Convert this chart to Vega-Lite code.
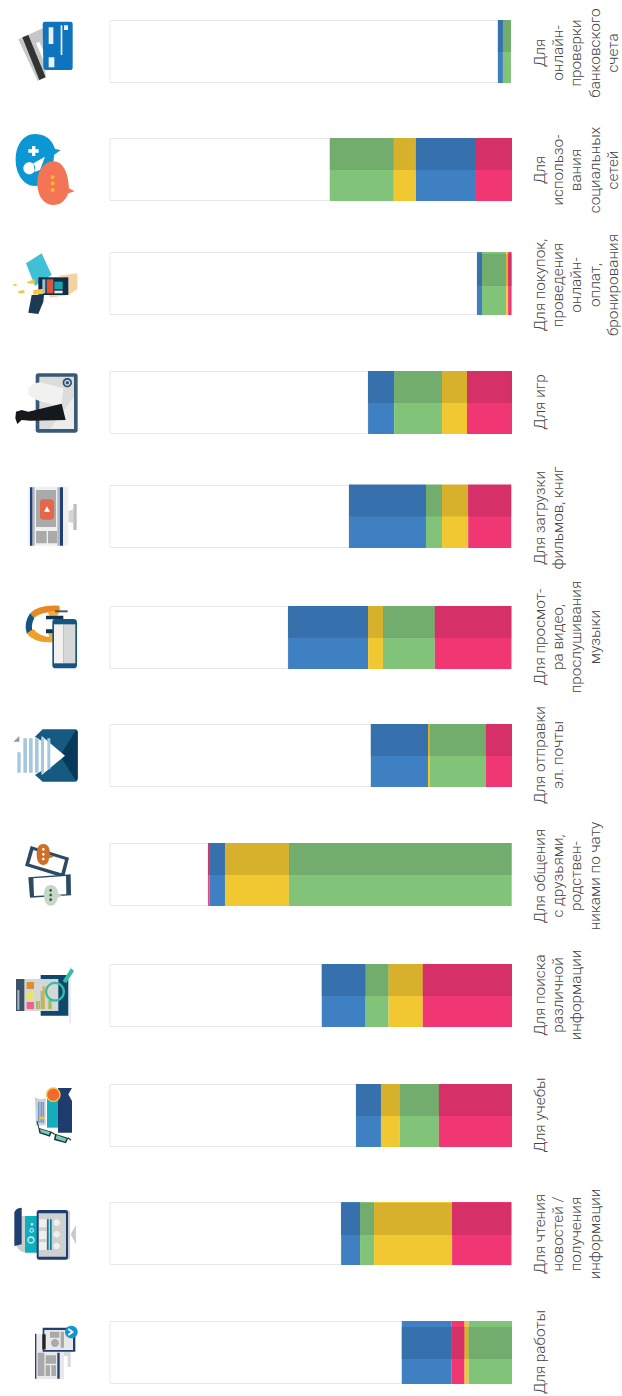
{"$schema":"https://vega.github.io/schema/vega-lite/v6.json","width":622,"height":1396,"padding":0,"autosize":{"type":"none"},"background":"#ffffff","config":{"view":{"stroke":null}},
"datasets":{
"bars":[
{"rank":1,"order":0,"series":"none","value":96.5},{"rank":1,"order":1,"series":"blue","value":1.24},{"rank":1,"order":2,"series":"green","value":2.0},{"rank":1,"order":3,"series":"none","value":0.26},
{"rank":2,"order":0,"series":"none","value":54.7},{"rank":2,"order":1,"series":"green","value":15.9},{"rank":2,"order":2,"series":"yellow","value":5.5},{"rank":2,"order":3,"series":"blue","value":14.7},{"rank":2,"order":4,"series":"pink","value":9.2},
{"rank":3,"order":0,"series":"none","value":91.3},{"rank":3,"order":1,"series":"blue","value":1.24},{"rank":3,"order":2,"series":"green","value":6.0},{"rank":3,"order":3,"series":"yellow","value":0.5},{"rank":3,"order":4,"series":"pink","value":0.75},{"rank":3,"order":5,"series":"green","value":0.21},
{"rank":4,"order":0,"series":"none","value":64.2},{"rank":4,"order":1,"series":"blue","value":6.5},{"rank":4,"order":2,"series":"green","value":11.9},{"rank":4,"order":3,"series":"yellow","value":6.2},{"rank":4,"order":4,"series":"pink","value":10.95},{"rank":4,"order":5,"series":"blue","value":0.25},
{"rank":5,"order":0,"series":"none","value":59.45},{"rank":5,"order":1,"series":"blue","value":19.15},{"rank":5,"order":2,"series":"green","value":4.0},{"rank":5,"order":3,"series":"yellow","value":6.5},{"rank":5,"order":4,"series":"pink","value":10.7},
{"rank":6,"order":0,"series":"none","value":44.3},{"rank":6,"order":1,"series":"blue","value":19.9},{"rank":6,"order":2,"series":"yellow","value":3.7},{"rank":6,"order":3,"series":"green","value":12.9},{"rank":6,"order":4,"series":"pink","value":18.95},{"rank":6,"order":5,"series":"yellow","value":0.25},
{"rank":7,"order":0,"series":"none","value":64.9},{"rank":7,"order":1,"series":"blue","value":14.2},{"rank":7,"order":2,"series":"yellow","value":0.5},{"rank":7,"order":3,"series":"green","value":13.9},{"rank":7,"order":4,"series":"pink","value":6.5},
{"rank":8,"order":0,"series":"none","value":24.4},{"rank":8,"order":1,"series":"pink","value":0.4},{"rank":8,"order":2,"series":"blue","value":3.8},{"rank":8,"order":3,"series":"yellow","value":15.9},{"rank":8,"order":4,"series":"green","value":55.25},{"rank":8,"order":5,"series":"yellow","value":0.25},
{"rank":9,"order":0,"series":"none","value":52.7},{"rank":9,"order":1,"series":"blue","value":10.9},{"rank":9,"order":2,"series":"green","value":5.7},{"rank":9,"order":3,"series":"yellow","value":8.5},{"rank":9,"order":4,"series":"pink","value":22.2},
{"rank":10,"order":0,"series":"none","value":61.2},{"rank":10,"order":1,"series":"blue","value":6.2},{"rank":10,"order":2,"series":"yellow","value":4.7},{"rank":10,"order":3,"series":"green","value":9.7},{"rank":10,"order":4,"series":"pink","value":18.2},
{"rank":11,"order":0,"series":"none","value":57.5},{"rank":11,"order":1,"series":"blue","value":4.7},{"rank":11,"order":2,"series":"green","value":3.5},{"rank":11,"order":3,"series":"yellow","value":19.4},{"rank":11,"order":4,"series":"pink","value":14.65},{"rank":11,"order":5,"series":"yellow","value":0.25},
{"rank":12,"order":0,"series":"none","value":72.6},{"rank":12,"order":1,"series":"blue","value":12.4},{"rank":12,"order":2,"series":"pink","value":3.2},{"rank":12,"order":3,"series":"yellow","value":1.0},{"rank":12,"order":4,"series":"green","value":10.8}
],
"labels":[
{"rank":1,"lines":["Для","онлайн-","проверки","банковского","счета"]},
{"rank":2,"lines":["Для","использо-","вания","социальных","сетей"]},
{"rank":3,"lines":["Для покупок,","проведения","онлайн-","оплат,","бронирования"]},
{"rank":4,"lines":["Для игр"]},
{"rank":5,"lines":["Для загрузки","фильмов, книг"]},
{"rank":6,"lines":["Для просмот-","ра видео,","прослушивания","музыки"]},
{"rank":7,"lines":["Для отправки","эл. почты"]},
{"rank":8,"lines":["Для общения","с друзьями,","родствен-","никами по чату"]},
{"rank":9,"lines":["Для поиска","различной","информации"]},
{"rank":10,"lines":["Для учебы"]},
{"rank":11,"lines":["Для чтения","новостей /","получения","информации"]},
{"rank":12,"lines":["Для работы"]}
],
"icons":[
{"rank":1,"part":"p01"},{"rank":1,"part":"p02"},{"rank":1,"part":"p03"},{"rank":1,"part":"p04"},{"rank":1,"part":"p05"},
{"rank":2,"part":"p06"},{"rank":2,"part":"p07"},{"rank":2,"part":"p08"},{"rank":2,"part":"p09"},
{"rank":3,"part":"p10"},{"rank":3,"part":"p11"},{"rank":3,"part":"p12"},{"rank":3,"part":"p13"},{"rank":3,"part":"p14"},{"rank":3,"part":"p15"},{"rank":3,"part":"p16"},{"rank":3,"part":"p17"},{"rank":3,"part":"p18"},
{"rank":4,"part":"p19"},{"rank":4,"part":"p20"},{"rank":4,"part":"p21"},{"rank":4,"part":"p22"},{"rank":4,"part":"p23"},{"rank":4,"part":"p24"},
{"rank":5,"part":"p25"},{"rank":5,"part":"p26"},{"rank":5,"part":"p27"},{"rank":5,"part":"p28"},{"rank":5,"part":"p29"},{"rank":5,"part":"p30"},{"rank":5,"part":"p31"},{"rank":5,"part":"p32"},
{"rank":6,"part":"p33"},{"rank":6,"part":"p34"},{"rank":6,"part":"p35"},{"rank":6,"part":"p36"},{"rank":6,"part":"p37"},{"rank":6,"part":"p38"},{"rank":6,"part":"p39"},{"rank":6,"part":"p40"},{"rank":6,"part":"p41"},
{"rank":7,"part":"p42"},{"rank":7,"part":"p43"},{"rank":7,"part":"p44"},{"rank":7,"part":"p45"},{"rank":7,"part":"p46"},
{"rank":8,"part":"p47"},{"rank":8,"part":"p48"},{"rank":8,"part":"p49"},{"rank":8,"part":"p50"},{"rank":8,"part":"p51"},{"rank":8,"part":"p52"},{"rank":8,"part":"p53"},{"rank":8,"part":"p54"},
{"rank":9,"part":"p55"},{"rank":9,"part":"p56"},{"rank":9,"part":"p57"},{"rank":9,"part":"p58"},{"rank":9,"part":"p59"},{"rank":9,"part":"p60"},{"rank":9,"part":"p61"},{"rank":9,"part":"p62"},{"rank":9,"part":"p63"},{"rank":9,"part":"p64"},{"rank":9,"part":"p65"},
{"rank":10,"part":"p66"},{"rank":10,"part":"p67"},{"rank":10,"part":"p68"},{"rank":10,"part":"p69"},{"rank":10,"part":"p70"},{"rank":10,"part":"p71"},{"rank":10,"part":"p72"},{"rank":10,"part":"p73"},{"rank":10,"part":"p74"},
{"rank":11,"part":"p75"},{"rank":11,"part":"p76"},{"rank":11,"part":"p77"},{"rank":11,"part":"p78"},{"rank":11,"part":"p79"},{"rank":11,"part":"p80"},{"rank":11,"part":"p81"},{"rank":11,"part":"p82"},{"rank":11,"part":"p83"},
{"rank":12,"part":"p84"},{"rank":12,"part":"p85"},{"rank":12,"part":"p86"},{"rank":12,"part":"p87"},{"rank":12,"part":"p88"},{"rank":12,"part":"p89"},{"rank":12,"part":"p90"},{"rank":12,"part":"p91"},{"rank":12,"part":"p92"},{"rank":12,"part":"p93"}
]},
"layer":[
{"data":{"name":"icons"},
 "mark":{"type":"point","filled":true,"opacity":1,"strokeWidth":0,"size":0.4444},
 "encoding":{
  "x":{"datum":-27.3632,"type":"quantitative","axis":null,"scale":{"domain":[0,100],"range":[110,512],"nice":false,"zero":false}},
  "y":{"field":"rank","type":"quantitative","axis":null,"scale":{"domain":[1,2,3,4,5,6,7,8,9,10,11,12],"range":[0,0,0,355,355,355,715,715,715,1066,1066,1066],"nice":false,"zero":false}},
  "shape":{"field":"part","type":"nominal","legend":null,"scale":{
   "domain":["p01","p02","p03","p04","p05","p06","p07","p08","p09","p10","p11","p12","p13","p14","p15","p16","p17","p18","p19","p20","p21","p22","p23","p24","p25","p26","p27","p28","p29","p30","p31","p32","p33","p34","p35","p36","p37","p38","p39","p40","p41","p42","p43","p44","p45","p46","p47","p48","p49","p50","p51","p52","p53","p54","p55","p56","p57","p58","p59","p60","p61","p62","p63","p64","p65","p66","p67","p68","p69","p70","p71","p72","p73","p74","p75","p76","p77","p78","p79","p80","p81","p82","p83","p84","p85","p86","p87","p88","p89","p90","p91","p92","p93"],
   "range":[
"M55 118L130 84L137 230L113 243Z",
"M67 112L85 105L137 232L118 240Z",
"M108 130L118 125L140 175L130 180Z",
"M135 65H212Q218 65 218 72V203Q218 210 210 210H140Q130 210 130 200L128 72Q128 65 135 65Z",
"M146 172H163V202H146Z M182 76H187V165H182Z M192 76H204V90H192Z M146 82H160V132H146Z",
"M105 402C145 402 160 430 165 447L182 450L162 465C160 520 140 558 105 558C70 558 47 520 47 480C47 435 70 402 105 402Z",
"M85 448H96V438H106V448H116V458H106V468H96V458H85Z M70 505a18 18 0 1 0 36 0a18 18 0 1 0 -36 0Z M100 490L135 470L120 510L105 515Z",
"M160 484C190 484 205 520 207 565L224 574L205 580C195 605 180 615 160 615C130 615 112 585 112 550C112 515 130 484 160 484Z",
"M152 532a6 6 0 1 0 12 0a6 6 0 1 0 -12 0Z M152 550a6 6 0 1 0 12 0a6 6 0 1 0 -12 0Z M152 570a6 6 0 1 0 12 0a6 6 0 1 0 -12 0Z",
"M78 790L125 760L155 825L105 858Z",
"M170 828L232 820V868L205 885L150 893L145 880L205 860V835Z",
"M115 832H205V885H115Z",
"M140 838H160V880H140Z",
"M163 845H188V868H163Z",
"M127 838H136V880H127Z",
"M163 872H188V880H163Z",
"M82 845L104 838V852L82 850Z M55 873L73 870V880L55 880Z M40 852H50V857H40Z M100 870L130 866V882L100 884Z",
"M85 938L95 885H132L130 905L115 942Z",
"M115 55H225Q233 55 233 63V225Q233 233 225 233H115Q107 233 107 225V63Q107 55 115 55Z",
"M118 65H222V222H118Z",
"M150 222L222 125V222Z",
"M85 100Q95 85 120 82L190 100L185 150L160 150L110 135L85 120Z",
"M188 83a14 14 0 1 0 28 0a14 14 0 1 0 -28 0Z M193 83a9 9 0 1 1 18 0a9 9 0 1 1 -18 0Z M197 83a5 5 0 1 0 10 0a5 5 0 1 0 -10 0Z",
"M48 170L65 165L85 170L185 146L197 195L90 197L65 195L52 207L46 190Z",
"M85 395H205V572H85Z",
"M97 397H104V572H97Z M172 397H180V572H172Z",
"M90 397H97V572H90Z M180 397H189V572H180Z",
"M108 405H168V516H108Z M108 528H140V565H108Z M144 528H171V565H144Z",
"M130 433H152Q162 433 162 443V484Q162 494 152 494H130Q120 494 120 484V443Q120 433 130 433Z",
"M141 454L150 470H132Z",
"M205 468L220 463V505L205 500Z",
"M220 447H230V525H220Z",
"M178 752Q115 748 90 775L100 790Q125 768 180 770Z",
"M90 775Q70 805 80 835L100 845Q90 810 103 790Z",
"M80 835Q100 862 145 862H180L178 845L140 845Q115 840 100 822Z",
"M142 770H178L172 782H148Z M145 835H185L175 862H152Z",
"M165 766H203V772H165Z",
"M138 782H190V793H138Z M138 823H190V835H138Z",
"M165 792H220Q231 792 231 802V930Q231 940 220 940H167Q157 940 157 930V802Q157 792 165 792Z",
"M162 808H191V925H162Z",
"M191 808H226V925H191Z",
"M128 43H225Q233 43 233 51V192Q233 200 225 200H128L105 180L195 122L105 65Z",
"M228 45L180 122L228 197L233 190V50Z",
"M125 63L195 122L125 180Z",
"M52 112H62V173H52Z M70 70H81V173H70Z M87 70H98V173H87Z M105 70H116V173H105Z M123 70H132V173H123Z M142 70H151V163H142Z",
"M40 80L58 63V80Z",
"M92 393L207 428L192 488L75 452Z",
"M100 405L195 434L184 475L88 446Z",
"M85 487L212 478L213 541L90 548Z",
"M100 490L198 483L199 538L102 543Z",
"M130 387C150 387 150 410 150 420L162 425L147 430C145 445 140 450 130 450C115 450 110 435 110 418C110 400 115 387 130 387Z",
"M126 403a4 4 0 1 0 8 0a4 4 0 1 0 -8 0Z M126 418a4 4 0 1 0 8 0a4 4 0 1 0 -8 0Z M126 432a4 4 0 1 0 8 0a4 4 0 1 0 -8 0Z",
"M152 510C170 510 175 530 175 538L186 542L173 548C170 565 162 572 152 572C138 572 132 558 132 540C132 522 138 510 152 510Z",
"M148 526a4 4 0 1 0 8 0a4 4 0 1 0 -8 0Z M148 540a4 4 0 1 0 8 0a4 4 0 1 0 -8 0Z M148 554a4 4 0 1 0 8 0a4 4 0 1 0 -8 0Z",
"M208 755H212V925H208Z",
"M122 780H205V902H122Z",
"M60 792H175V888H60Z",
"M48 792H73V888H48Z",
"M52 825H58V885H52Z",
"M80 801H102V822H80Z",
"M80 832H102V852H80Z",
"M80 861H102V882H80Z",
"M108 858H115V882H108Z M122 828H128V882H122Z M145 855H155V882H145Z",
"M116 858H120V882H116Z M128 813H134V882H128Z",
"M135 830a30 30 0 1 0 60 0a30 30 0 1 0 -60 0Z M142 830a23 23 0 1 1 46 0a23 23 0 1 1 -46 0Z M188 798L213 760L222 768L198 805Z",
"M174 66H216L205 85L216 105V200H174Z",
"M141 95H174V185H141Z",
"M138 86a22 22 0 1 0 44 0a22 22 0 1 0 -44 0Z",
"M142 86a18 18 0 1 0 36 0a18 18 0 1 0 -36 0Z",
"M105 93Q120 105 137 95V178H108Z",
"M115 108H118V170H115Z M122 108H125V170H122Z M128 108H131V170H128Z",
"M118 152H133V160H118Z",
"M115 185L155 197L150 212L118 202Z M165 203L205 216L198 232L162 222Z M112 165L118 185L115 186L109 166Z M155 197L165 203L163 206L153 200Z M205 214L214 221L212 224L203 217Z",
"M120 189L150 198L147 207L122 199Z M170 207L200 218L195 227L167 218Z",
"M43 520Q50 560 80 560H115V450H65L43 520Z",
"M43 445Q43 425 65 425V535L43 540Z",
"M75 450H112V560H75Z",
"M82 522a11 11 0 1 0 22 0a11 11 0 1 0 -22 0Z M86 522a7 7 0 1 1 14 0a7 7 0 1 1 -14 0Z M88 493a7 7 0 1 0 14 0a7 7 0 1 0 -14 0Z M91 493a4 4 0 1 1 8 0a4 4 0 1 1 -8 0Z M92 475a4 4 0 1 0 8 0a4 4 0 1 0 -8 0Z",
"M200 432Q210 432 210 440V573Q210 581 200 581Z M212 505L228 478V535Z",
"M118 432H197Q204 432 204 440V573Q204 581 197 581H118Q110 581 110 573V440Q110 432 118 432Z",
"M116 442H198V572H116Z",
"M117 460H139V484H117Z M117 495H139V519H117Z M117 528H139V552H117Z M160 470a10 10 0 1 0 20 0a10 10 0 1 0 -20 0Z M160 505a10 10 0 1 0 20 0a10 10 0 1 0 -20 0Z M160 540a10 10 0 1 0 20 0a10 10 0 1 0 -20 0Z",
"M141 460H146V552H141Z M150 460H155V552H150Z",
"M105 803H192V940H105Z",
"M192 855H212V903H203V870H192Z",
"M105 803H109V938H105Z M172 860H179V938H172Z",
"M113 860H133V930H113Z M137 868H168V893H137Z M137 898H150V930H137Z M154 898H168V930H154Z",
"M128 785H226V857H128Z",
"M133 792H219V852H133Z",
"M150 797H178V815H150Z M182 797H192V845H182Z M153 831a12 12 0 1 0 24 0a12 12 0 1 0 -24 0Z",
"M127 805H137V850H127Z",
"M195 798a19 19 0 1 0 38 0a19 19 0 1 0 -38 0Z",
"M207 787L222 798L207 809L203 805L213 798L203 791Z"
]}},
  "color":{"field":"part","type":"nominal","legend":null,"scale":{
   "domain":["p01","p02","p03","p04","p05","p06","p07","p08","p09","p10","p11","p12","p13","p14","p15","p16","p17","p18","p19","p20","p21","p22","p23","p24","p25","p26","p27","p28","p29","p30","p31","p32","p33","p34","p35","p36","p37","p38","p39","p40","p41","p42","p43","p44","p45","p46","p47","p48","p49","p50","p51","p52","p53","p54","p55","p56","p57","p58","p59","p60","p61","p62","p63","p64","p65","p66","p67","p68","p69","p70","p71","p72","p73","p74","p75","p76","p77","p78","p79","p80","p81","p82","p83","p84","p85","p86","p87","p88","p89","p90","p91","p92","p93"],
   "range":["#c4c8c9","#333333","#ffffff","#0f74bd","#e8f1f8","#0b97d3","#ffffff","#f47555","#fdb52b","#3fc0d5","#f5d2a3","#0f2f48","#d9553c","#1ca3ae","#8fc6d8","#e8eaea","#f6c54a","#1c3a52","#385a77","#dbdcdc","#ececec","#f1f1f0","#2a5577","#15191b","#f0f0f0","#b5b6b6","#1f3f7c","#a9abab","#e5674a","#ffffff","#d4d5d5","#bcbdbd","#e58a23","#14567f","#efa02c","#f0a84a","#555555","#0d3552","#14567f","#f2f1ef","#d6d8d8","#165a82","#07395a","#ffffff","#a5c8df","#8e9aa5","#2d4a63","#ffffff","#2d4a63","#ffffff","#cf6e25","#ffffff","#c4d8c4","#3a4a55","#e3e3e3","#0e486c","#d3d7d6","#3c5269","#aab4bc","#e38c2e","#ebe65e","#f0628a","#9cc15a","#e5a43a","#35bda5","#1e3c6d","#14aebc","#f7c94a","#f26a2e","#c9d0d8","#4c7cc0","#f3c53b","#12393f","#7fc8b4","#cbcccc","#1f3f73","#0eb0bd","#cfe8ec","#c9cacb","#1f3f73","#cfd0d0","#efefef","#0d7f99","#e9e9e9","#d9d9d9","#1f3f73","#a9a9a9","#1f3f73","#e8e8e8","#a9a9a9","#222222","#1196cf","#ffffff"]}}
 }},
{"data":{"name":"bars"},
 "transform":[{"stack":"value","groupby":["rank"],"sort":[{"field":"order","order":"ascending"}],"as":["x0","x1"]},{"filter":"datum.order === 0"}],
 "mark":{"type":"bar","orient":"horizontal","height":62,"fill":"#ffffff","stroke":"#e8e8e8","strokeWidth":1},
 "encoding":{
  "x":{"field":"x0","type":"quantitative","axis":null,"scale":{"domain":[0,100],"range":[110,512],"nice":false,"zero":false}},
  "x2":{"field":"x1"},
  "y":{"field":"rank","type":"quantitative","axis":null,"scale":{"domain":[1,2,3,4,5,6,7,8,9,10,11,12],"range":[51.5,169.5,283.5,402.5,516.5,637.5,755.5,874.5,995.5,1115.5,1233.5,1352.5],"nice":false,"zero":false,"padding":0}}
 }},
{"data":{"name":"bars"},
 "transform":[{"stack":"value","groupby":["rank"],"sort":[{"field":"order","order":"ascending"}],"as":["x0","x1"]},{"filter":"datum.series !== 'none'"}],
 "mark":{"type":"bar","orient":"horizontal","height":63},
 "encoding":{
  "x":{"field":"x0","type":"quantitative","axis":null,"scale":{"domain":[0,100],"range":[110,512],"nice":false,"zero":false}},
  "x2":{"field":"x1"},
  "y":{"field":"rank","type":"quantitative","axis":null,"scale":{"domain":[1,2,3,4,5,6,7,8,9,10,11,12],"range":[51.5,169.5,283.5,402.5,516.5,637.5,755.5,874.5,995.5,1115.5,1233.5,1352.5],"nice":false,"zero":false,"padding":0}},
  "color":{"field":"series","type":"nominal","legend":null,"scale":{"domain":["blue","green","yellow","pink"],"range":["#3e80c1","#81c378","#f1c832","#f03673"]}}
 }},
{"data":{"name":"bars"},
 "transform":[{"stack":"value","groupby":["rank"],"sort":[{"field":"order","order":"ascending"}],"as":["x0","x1"]},{"filter":"datum.series !== 'none'"}],
 "mark":{"type":"bar","orient":"horizontal","height":32},
 "encoding":{
  "x":{"field":"x0","type":"quantitative","axis":null,"scale":{"domain":[0,100],"range":[110,512],"nice":false,"zero":false}},
  "x2":{"field":"x1"},
  "y":{"field":"rank","type":"quantitative","axis":null,"scale":{"domain":[1,2,3,4,5,6,7,8,9,10,11,12],"range":[36,154,270,387,500.5,622,740,859,980,1100,1219,1343],"nice":false,"zero":false,"padding":0}},
  "color":{"field":"series","type":"nominal","legend":null,"scale":{"domain":["blue","green","yellow","pink"],"range":["#3771ad","#72ad6e","#d7b12c","#d53067"]}}
 }},
{"data":{"name":"labels"},
 "mark":{"type":"text","angle":-90,"align":"center","baseline":"top","font":"Roboto","fontWeight":300,"fontSize":15.3,"lineHeight":18.3,"fill":"#444444"},
 "encoding":{
  "x":{"datum":105.2,"type":"quantitative","axis":null,"scale":{"domain":[0,100],"range":[110,512],"nice":false,"zero":false}},
  "y":{"field":"rank","type":"quantitative","axis":null,"scale":{"domain":[1,2,3,4,5,6,7,8,9,10,11,12],"range":[53,170,285,402,518,637,755,876,995,1115,1234,1352],"nice":false,"zero":false}},
  "text":{"field":"lines","type":"nominal"}
 }}
],
"resolve":{"scale":{"y":"independent","color":"independent","shape":"independent"}}
}
